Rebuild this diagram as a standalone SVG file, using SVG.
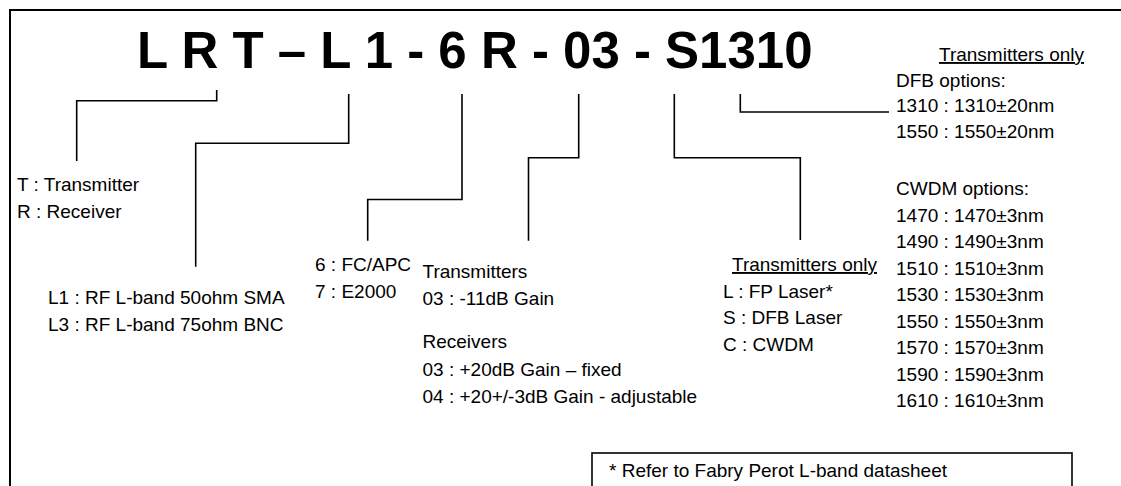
<svg xmlns="http://www.w3.org/2000/svg" width="1121" height="486" viewBox="0 0 1121 486">
<style>
  .t { font-family: "Liberation Sans", Arial, sans-serif; font-size: 19px; fill: #000; }
  .title { font-family: "Liberation Sans", Arial, sans-serif; font-size: 51px; font-weight: bold; fill: #000; white-space: pre; }
  .u { text-decoration: underline; }
  .wire { fill: none; stroke: #000; stroke-width: 1.6; }
  .frame { fill: none; stroke: #000; stroke-width: 2; }
</style>
<rect x="0" y="0" width="1121" height="486" fill="#fff"/>
<path class="frame" d="M10,487 V10 H1122"/>

<g id="title">
  <text class="title" x="137" y="67.5">L R T – L 1 - 6 R - 03 - S1310</text>
</g>

<g id="connectors">
  <path class="wire" d="M216.7,90 V100.7 H76.7 V161"/>
  <path class="wire" d="M348.7,94 V143.3 H195.7 V266.7"/>
  <path class="wire" d="M462,94 V199.5 H367.7 V240.7"/>
  <path class="wire" d="M578.7,94 V157.7 H528.5 V240.7"/>
  <path class="wire" d="M674.3,94 V157.7 H800.3 V240"/>
  <path class="wire" d="M740.3,94 V112 H889"/>
</g>

<g id="node-type">
  <text class="t" x="17" y="190.5">T : Transmitter</text>
  <text class="t" x="17" y="217.5">R : Receiver</text>
</g>

<g id="node-rf">
  <text class="t" x="48" y="304">L1 : RF L-band 50ohm SMA</text>
  <text class="t" x="48" y="331">L3 : RF L-band 75ohm BNC</text>
</g>

<g id="node-connector">
  <text class="t" x="315" y="270.5">6 : FC/APC</text>
  <text class="t" x="315" y="297.5">7 : E2000</text>
</g>

<g id="node-gain">
  <text class="t" x="422.5" y="278">Transmitters</text>
  <text class="t" x="422.5" y="305">03 : -11dB Gain</text>
  <text class="t" x="422.5" y="348">Receivers</text>
  <text class="t" x="422.5" y="375.5">03 : +20dB Gain – fixed</text>
  <text class="t" x="422.5" y="402.5">04 : +20+/-3dB Gain - adjustable</text>
</g>

<g id="node-laser">
  <text class="t u" x="732" y="271">Transmitters only</text>
  <text class="t" x="723" y="297.5">L : FP Laser*</text>
  <text class="t" x="723" y="324">S : DFB Laser</text>
  <text class="t" x="723" y="350.5">C : CWDM</text>
</g>

<g id="node-wavelength">
  <text class="t u" x="939" y="61">Transmitters only</text>
  <text class="t" x="896" y="86.5">DFB options:</text>
  <text class="t" x="896" y="112">1310 : 1310±20nm</text>
  <text class="t" x="896" y="137.5">1550 : 1550±20nm</text>
  <text class="t" x="896" y="195">CWDM options:</text>
  <text class="t" x="896" y="221.5">1470 : 1470±3nm</text>
  <text class="t" x="896" y="248">1490 : 1490±3nm</text>
  <text class="t" x="896" y="274.5">1510 : 1510±3nm</text>
  <text class="t" x="896" y="301">1530 : 1530±3nm</text>
  <text class="t" x="896" y="327.5">1550 : 1550±3nm</text>
  <text class="t" x="896" y="354">1570 : 1570±3nm</text>
  <text class="t" x="896" y="380.5">1590 : 1590±3nm</text>
  <text class="t" x="896" y="407">1610 : 1610±3nm</text>
</g>

<g id="node-footnote">
  <rect x="592" y="453" width="480" height="60" fill="none" stroke="#000" stroke-width="1.6"/>
  <text class="t" x="609" y="477">* Refer to Fabry Perot L-band datasheet</text>
</g>
</svg>
